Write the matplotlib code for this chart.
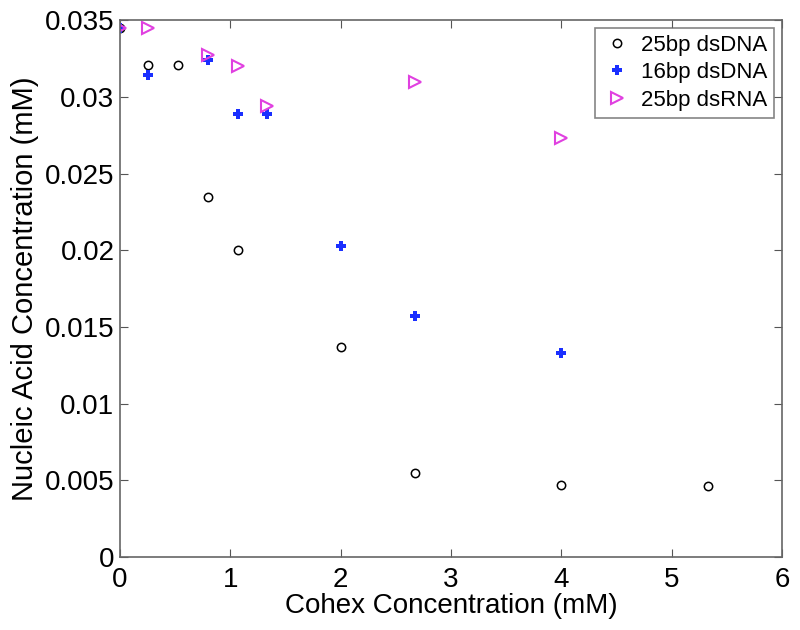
import matplotlib.pyplot as plt
import numpy as np

plt.rcParams['font.family'] = ['Liberation Sans', 'DejaVu Sans']

x_25dna = [0, 0.25, 0.53, 0.80, 1.07, 2.0, 2.67, 4.0, 5.33]
y_25dna = [0.0345, 0.0321, 0.0321, 0.0235, 0.0200, 0.0137, 0.0055, 0.0047, 0.0046]

x_16dna = [0, 0.25, 0.80, 1.07, 1.33, 2.0, 2.67, 4.0]
y_16dna = [0.0345, 0.0314, 0.0324, 0.0289, 0.0289, 0.0203, 0.0157, 0.0133]

x_25rna = [0, 0.25, 0.80, 1.07, 1.33, 2.67, 4.0]
y_25rna = [0.0345, 0.0345, 0.0327, 0.0320, 0.0294, 0.0310, 0.0273]

ytick_labels = ['0', '0.005', '0.01', '0.015', '0.02', '0.025', '0.03', '0.035']

fig = plt.figure(figsize=(8, 6.3), dpi=100)
ax = fig.add_axes([0.15, 0.116, 0.8275, 0.852])

ax.plot(x_25dna, y_25dna, linestyle='none', marker='o', markersize=6,
        markerfacecolor='none', markeredgecolor='black', markeredgewidth=1.1, label='25bp dsDNA')
ax.plot(x_16dna, y_16dna, linestyle='none', marker='P', markersize=7,
        color='#1a2fff', markeredgewidth=0, label='16bp dsDNA')
ax.plot(x_25rna, y_25rna, linestyle='none', marker='>', markersize=8,
        markerfacecolor='none', markeredgecolor='#e040e0', markeredgewidth=1.5, label='25bp dsRNA')

ax.set_xlim(0, 6)
ax.set_ylim(0, 0.035)
ax.set_xticks(np.arange(0, 7, 1))
ax.set_yticks(np.arange(0, 0.0351, 0.005))
ax.set_yticklabels(ytick_labels)

ax.tick_params(direction='in', top=True, right=True, labelsize=20, length=6, color='#555555', pad=4)
ax.tick_params(axis='x', pad=7)
for s in ax.spines.values():
    s.set_color('#666666')
    s.set_linewidth(1.2)

ax.set_xlabel('Cohex Concentration (mM)', fontsize=20, labelpad=0)
ax.set_ylabel('Nucleic Acid Concentration (mM)', fontsize=21, labelpad=4)

leg = ax.legend(loc='upper right', fontsize=16, fancybox=False, edgecolor='#666666',
                handletextpad=0.4, borderaxespad=0.35, handlelength=1.4,
                labelspacing=0.3, borderpad=0.3)
leg.get_frame().set_linewidth(1.2)

fig.savefig('out.png', dpi=100)
